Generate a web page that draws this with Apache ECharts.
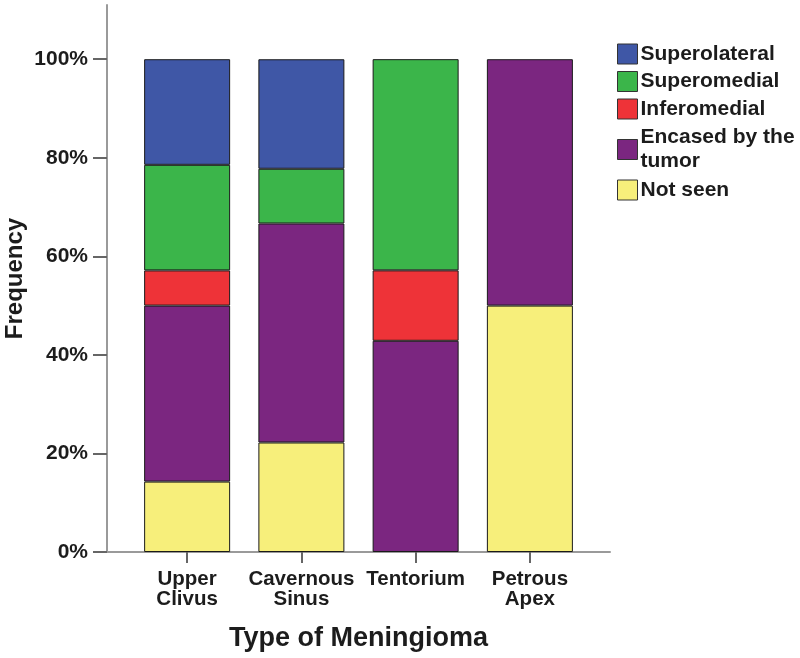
<!DOCTYPE html>
<html>
<head>
<meta charset="utf-8">
<script src="https://cdn.jsdelivr.net/npm/echarts@6/dist/echarts.min.js"></script>
<style>html,body{margin:0;padding:0;background:#fff}#c{width:800px;height:658px}</style>
</head>
<body>
<div id="c"></div>
<script>
// Data (percent of each meningioma type)
var categories = ['Upper\nClivus', 'Cavernous\nSinus', 'Tentorium', 'Petrous\nApex'];
var notSeen       = [14.29, 22.22, 0, 50];
var encased       = [35.71, 44.44, 42.86, 50];
var inferomedial  = [7.14, 0, 14.29, 0];
var superomedial  = [21.43, 11.11, 42.86, 0];
var superolateral = [21.43, 22.22, 0, 0];
var yTicks = [0, 20, 40, 60, 80, 100];
var legendOrder = ['Superolateral', 'Superomedial', 'Inferomedial', 'Encased by the\ntumor', 'Not seen'];

var FONT = '"Liberation Sans", Arial, Helvetica, sans-serif';
var TXT = '#1c1c1c';
function nz(a){ return a.map(function(v){ return v === 0 ? '-' : v; }); }
function bar(name, data, color){
  return {
    name: name, type: 'bar', stack: 'all', xAxisIndex: 1, yAxisIndex: 1,
    data: nz(data), barWidth: 86,
    itemStyle: { color: color, borderColor: '#1a1a1a', borderWidth: 1 },
    emphasis: { disabled: true }
  };
}
var chart = echarts.init(document.getElementById('c'), null, { renderer: 'canvas' });
chart.setOption({
  animation: false,
  backgroundColor: '#fff',
  grid: [
    { left: 107, right: 190, top: 5, bottom: 106, containLabel: false, outerBoundsMode: 'none' },
    { left: 130, right: 213, top: 5, bottom: 106, containLabel: false, outerBoundsMode: 'none' }
  ],
  legend: {
    orient: 'vertical', left: 612, top: 38,
    itemWidth: 20, itemHeight: 20, itemGap: 5.5,
    data: legendOrder.map(function(n){
      return n.indexOf('\n') >= 0 ? { name: n, textStyle: { lineHeight: 24 } } : { name: n };
    }),
    icon: 'rect',
    textStyle: { fontFamily: FONT, fontWeight: 'bold', fontSize: 21, color: TXT, lineHeight: 22, padding: [0,0,0,-2] },
    itemStyle: { borderColor: '#333', borderWidth: 1 },
    selectedMode: false
  },
  xAxis: [
    {
      gridIndex: 0, type: 'value', min: 0, max: 1,
      axisLine: { show: true, lineStyle: { color: '#9a9a9a', width: 2 } },
      axisTick: { show: false }, axisLabel: { show: false }, splitLine: { show: false },
      name: 'Type of Meningioma', nameLocation: 'middle', nameGap: 73, nameMoveOverlap: false,
      nameTextStyle: { fontFamily: FONT, fontWeight: 'bold', fontSize: 27, color: TXT }
    },
    {
      gridIndex: 1, type: 'category', data: categories,
      axisLine: { show: false },
      axisTick: { show: true, alignWithLabel: true, length: 11, lineStyle: { color: '#666', width: 2 } },
      axisLabel: { margin: 17, fontFamily: FONT, fontWeight: 'bold', fontSize: 20.5, lineHeight: 20, color: TXT, interval: 0 }
    }
  ],
  yAxis: [
    {
      gridIndex: 0, type: 'value', min: 0, max: 111,
      axisLine: { show: true, lineStyle: { color: '#9a9a9a', width: 2 } },
      axisTick: { show: true, length: 14, customValues: yTicks, lineStyle: { color: '#666', width: 2 } },
      axisLabel: { margin: 19, customValues: yTicks,
        formatter: function(v){ return v > 100 ? '' : v + '%'; },
        fontFamily: FONT, fontWeight: 'bold', fontSize: 21, color: TXT },
      splitLine: { show: false },
      name: 'Frequency', nameLocation: 'middle', nameGap: 80, nameRotate: 90, nameMoveOverlap: false,
      nameTextStyle: { fontFamily: FONT, fontWeight: 'bold', fontSize: 24, color: TXT }
    },
    {
      gridIndex: 1, type: 'value', min: 0, max: 111, show: false,
      splitLine: { show: false }
    }
  ],
  series: [
    bar('Not seen', notSeen, '#F7EF7B'),
    bar('Encased by the\ntumor', encased, '#7B2680'),
    bar('Inferomedial', inferomedial, '#EE3338'),
    bar('Superomedial', superomedial, '#3BB54A'),
    bar('Superolateral', superolateral, '#3F57A6')
  ]
});
</script>
</body>
</html>
